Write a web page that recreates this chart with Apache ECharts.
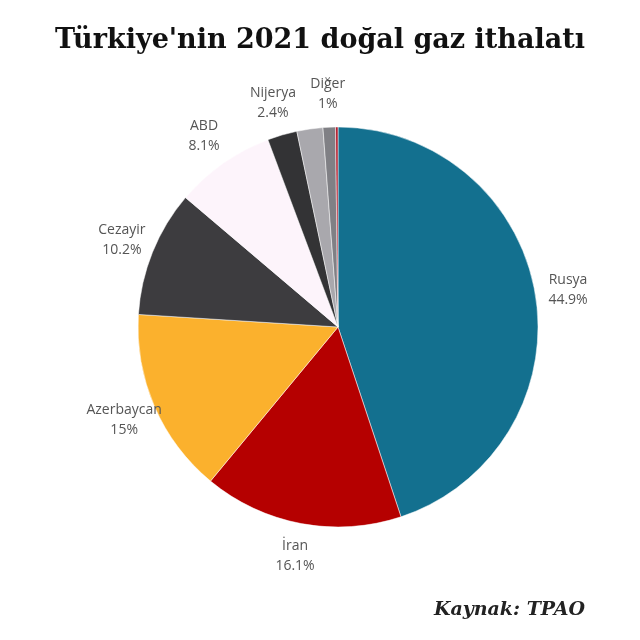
<!DOCTYPE html>
<html lang="tr">
<head>
<meta charset="UTF-8" />
<title>Türkiye doğal gaz ithalatı</title>
<style>
	body { margin: 0; padding: 0; background: #fff; }
	.chart { width: 640px; height: 640px; }
</style>
</head>
<body>
<div class="chart"></div>
<script src="https://cdn.jsdelivr.net/npm/echarts@6/dist/echarts.min.js"></script>
<script>
	// ülkeler ve paylar (%)
	const names = ['Rusya', 'İran', 'Azerbaycan', 'Cezayir', 'ABD', 'Nijerya', '', 'Diğer', ' '];
	const values = [44.9, 16.1, 15, 10.2, 8.1, 2.4, 2.1, 1, 0.2];
	const showLabel = [true, true, true, true, true, true, false, true, false];
	const colors = ['#13708f', '#b50000', '#fbb12d', '#3d3c3f', '#fdf4fb', '#333335', '#a9a8ad', '#808085', '#b11e2f'];

	const chart = echarts.init(document.querySelector('.chart'));
	const common = {
		type: 'pie',
		center: [338, 327],
		startAngle: 90,
		clockwise: true,
		animation: false,
		silent: true
	};
	chart.setOption({
		title: {
			text: "Türkiye'nin 2021 doğal gaz ithalatı",
			left: 'center',
			top: 22,
			textStyle: { fontFamily: 'DejaVu Serif', fontWeight: 'bold', fontSize: 27, color: '#111' }
		},
		graphic: [{
			type: 'text',
			right: 55,
			bottom: 20,
			style: { text: 'Kaynak: TPAO', font: 'italic bold 19px "DejaVu Serif"', fill: '#222' }
		}],
		series: [
			Object.assign({}, common, {
				radius: [0, 200],
				itemStyle: { borderColor: '#fff', borderWidth: 0.5 },
				label: { show: false },
				labelLine: { show: false },
				data: names.map((n, i) => ({ name: n, value: values[i], itemStyle: { color: colors[i] } }))
			}),
			// etiket halkası (saydam)
			Object.assign({}, common, {
				radius: [205, 255],
				itemStyle: { color: 'rgba(0,0,0,0)' },
				label: {
					position: 'inside',
					formatter: p => p.name + '\n' + p.value + '%',
					fontFamily: 'Open Sans',
					fontSize: 14,
					color: '#555',
					lineHeight: 20,
					align: 'center'
				},
				labelLine: { show: false },
				data: names.map((n, i) => ({ name: n, value: values[i], label: { show: showLabel[i] } }))
			})
		]
	});
</script>
</body>
</html>
